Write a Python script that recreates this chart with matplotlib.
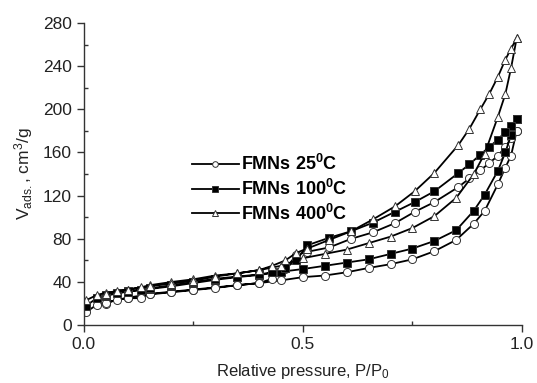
import matplotlib.pyplot as plt
from matplotlib.ticker import MultipleLocator

plt.rcParams['font.family'] = ['Liberation Sans', 'DejaVu Sans']
plt.rcParams['mathtext.fontset'] = 'custom'
plt.rcParams['mathtext.rm'] = 'Liberation Sans'
plt.rcParams['mathtext.it'] = 'Liberation Sans'
plt.rcParams['mathtext.bf'] = 'Liberation Sans:bold'

# adsorption branch (relative pressure)
p_ads = [0.005, 0.03, 0.05, 0.075, 0.10, 0.13, 0.15, 0.20, 0.25, 0.30, 0.35, 0.40, 0.45,
         0.50, 0.55, 0.60, 0.65, 0.70, 0.75, 0.80, 0.85, 0.89, 0.915, 0.945, 0.962, 0.975, 0.988]
# desorption branch
p_des = [0.988, 0.975, 0.962, 0.945, 0.925, 0.905, 0.88, 0.855, 0.80, 0.755, 0.71, 0.66,
         0.61, 0.56, 0.51, 0.485, 0.46, 0.43, 0.40, 0.35, 0.30, 0.25, 0.20, 0.15, 0.10, 0.05]

v25_ads = [12, 19, 20, 23.5, 25, 25, 29, 31, 33, 35, 37, 39, 41.5,
           44.5, 46, 49, 53, 56.5, 61, 68.5, 79, 94, 106, 130.5, 146, 157, 180]
v25_des = [180, 173, 165, 157, 150, 143.5, 136, 128, 114, 105, 94.5, 86,
           80, 72, 68, 65, 52, 43, 39, 37, 34.5, 32.5, 30.5, 28.5, 25.5, 21]

v100_ads = [18, 25, 27, 29.5, 31.5, 32.5, 33.5, 36, 39, 42, 44.5, 46.5, 49.5,
            52, 55, 58, 61, 66, 71, 78, 88, 106, 121, 143, 160, 176, 191]
v100_des = [191, 185, 179, 172, 165, 158, 149, 141, 124, 114, 105, 95,
            87, 81, 74, 60, 53, 49, 47, 45, 43, 40, 37, 34, 31, 28]

v400_ads = [23, 28, 30, 31.5, 33, 35, 37, 40, 42.5, 46, 48, 51, 55,
            62, 66, 70, 76, 82, 90, 101, 118, 140, 159, 193, 214, 238, 266]
v400_des = [266, 256, 246, 230, 214, 200, 182, 167, 141, 124, 110, 98,
            87, 79, 71, 67, 60, 55, 51, 48, 45, 41, 38.5, 36, 33, 29]

fig = plt.figure(figsize=(5.37, 3.83), dpi=100)
ax = fig.add_axes([0.156, 0.151, 0.816, 0.789])

series = [
    (v25_ads, v25_des, 'o', 'white', r'FMNs 25$^\mathbf{0}$C'),
    (v100_ads, v100_des, 's', 'black', r'FMNs 100$^\mathbf{0}$C'),
    (v400_ads, v400_des, '^', 'white', r'FMNs 400$^\mathbf{0}$C'),
]

for ads, des, mk, fc, lab in series:
    ax.plot(p_ads + p_des, ads + des, color='black', lw=1.3, marker=mk,
            markersize=5.8, markerfacecolor=fc, markeredgecolor='#333333',
            markeredgewidth=0.7, label=lab)

ax.set_xlim(0, 1.0)
ax.set_ylim(0, 280)
ax.xaxis.set_major_locator(MultipleLocator(0.5))
ax.xaxis.set_minor_locator(MultipleLocator(0.25))
ax.yaxis.set_major_locator(MultipleLocator(40))
ax.yaxis.set_minor_locator(MultipleLocator(20))
ax.xaxis.set_major_formatter(plt.FormatStrFormatter('%.1f'))

for s in ['top', 'right']:
    ax.spines[s].set_visible(False)
for s in ['left', 'bottom']:
    ax.spines[s].set_color('#333333')
    ax.spines[s].set_linewidth(1.0)

ax.tick_params(which='major', direction='out', length=5, width=1, labelsize=12.5,
               colors='#333333', labelcolor='#222222')
ax.tick_params(which='minor', direction='in', length=3, width=1, colors='#333333')

ax.set_xlabel('Relative pressure, P/P$_0$', fontsize=12, color='#222222', labelpad=7)
ax.set_ylabel(r'V$_{\mathrm{ads.}}$, cm$^3$/g', fontsize=12.5, color='#222222', labelpad=6)

leg = ax.legend(loc='upper left', bbox_to_anchor=(0.209, 0.62), frameon=False,
                handlelength=2.6, handletextpad=0.15, labelspacing=0.26,
                prop={'weight': 'bold', 'size': 13}, markerscale=0.7)

fig.savefig('out.png', dpi=100)
